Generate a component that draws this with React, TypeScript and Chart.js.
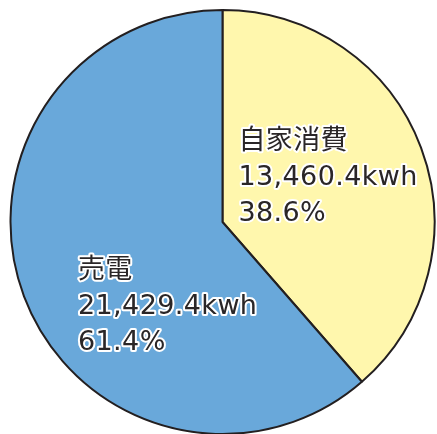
import React, { useEffect, useRef } from "react";
import { Chart, registerables } from "chart.js";

Chart.register(...registerables);

const categories = ["自家消費", "売電"];
const energyKwh = [13460.4, 21429.4];
const sliceColors = ["#fff7ad", "#69a8da"];

// label anchor offsets relative to centre, as fraction of radius (x = left edge, y = middle line)
const labelAnchors = [
  { dx: 0.075, dy: -0.208 },
  { dx: -0.682, dy: 0.402 },
];

const fmt = (v: number) =>
  v.toLocaleString("en-US", { minimumFractionDigits: 1, maximumFractionDigits: 1 });

const labelPlugin = {
  id: "sliceLabels",
  afterDatasetsDraw(chart: any) {
    const meta = chart.getDatasetMeta(0);
    const ctx = chart.ctx as CanvasRenderingContext2D;
    const total = energyKwh.reduce((a, b) => a + b, 0);
    ctx.save();
    ctx.font = '400 27px "DejaVu Sans", "Noto Sans CJK JP", sans-serif';
    (ctx as any).letterSpacing = "0.4px";
    ctx.textAlign = "left";
    ctx.textBaseline = "middle";
    ctx.lineJoin = "round";
    meta.data.forEach((arc: any, i: number) => {
      const { x, y, outerRadius } = arc.getProps(["x", "y", "outerRadius"], true);
      const lx = x + labelAnchors[i].dx * outerRadius;
      const ly = y + labelAnchors[i].dy * outerRadius;
      const lines = [
        categories[i],
        fmt(energyKwh[i]) + "kwh",
        ((energyKwh[i] / total) * 100).toFixed(1) + "%",
      ];
      lines.forEach((t, k) => {
        const yy = ly + (k - 1) * 36;
        ctx.strokeStyle = "#ffffff";
        ctx.lineWidth = 4;
        ctx.strokeText(t, lx, yy);
        ctx.fillStyle = "#2a2627";
        ctx.fillText(t, lx, yy);
      });
    });
    ctx.restore();
  },
};

export default function App() {
  const ref = useRef<HTMLCanvasElement | null>(null);
  useEffect(() => {
    if (!ref.current) return;
    const chart = new Chart(ref.current, {
      type: "pie",
      data: {
        labels: categories,
        datasets: [
          {
            data: energyKwh,
            backgroundColor: sliceColors,
            borderColor: "#231f20",
            borderWidth: 2,
          },
        ],
      },
      options: {
        responsive: false,
        animation: false,
        radius: 212,
        layout: { padding: { left: 8, right: 0, top: 10, bottom: 0 } },
        plugins: {
          legend: { display: false },
          tooltip: { enabled: false },
        },
      } as any,
      plugins: [labelPlugin],
    });
    return () => chart.destroy();
  }, []);
  return (
    <div style={{ position: "fixed", left: 0, top: 0, width: 437, height: 434, background: "#fff" }}>
      <canvas ref={ref} width={437} height={434} style={{ display: "block", width: 437, height: 434 }} />
    </div>
  );
}
